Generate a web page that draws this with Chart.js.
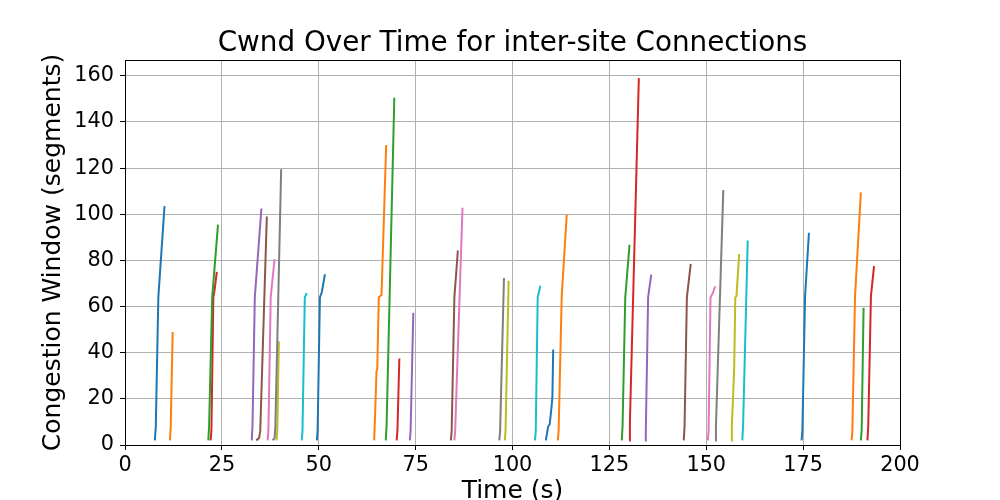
<!DOCTYPE html>
<html>
<head>
<meta charset="utf-8">
<script src="https://cdn.jsdelivr.net/npm/chart.js@4"></script>
<style>
html,body{margin:0;padding:0;background:#fff;}
#wrap{width:1000px;height:500px;}
</style>
</head>
<body>
<div id="wrap"><canvas id="c" width="1000" height="500"></canvas></div>
<script>
// ---- Data ----
const chartTitle = 'Cwnd Over Time for inter-site Connections';
const connectionNames = [];
for (let i = 1; i <= 34; i++) connectionNames.push('conn ' + i);

const connectionTimes = [
  [7.7, 7.95, 8.6, 10.2],
  [11.6, 11.8, 12.3],
  [21.5, 21.7, 22.5, 24.0],
  [22.1, 22.3, 22.8, 23.1, 23.7],
  [32.7, 32.9, 33.5, 35.2],
  [33.9, 34.6, 34.9, 36.6],
  [36.8, 37.0, 37.6, 38.6],
  [38.1, 38.6, 38.8, 40.3],
  [39.1, 39.3, 39.7],
  [45.6, 45.8, 46.4, 46.9],
  [49.5, 49.7, 50.3, 50.8, 51.6],
  [64.3, 64.6, 64.9, 65.1, 65.5, 66.2, 67.4],
  [67.3, 67.5, 69.5],
  [70.1, 70.3, 70.8],
  [73.5, 73.7, 74.4],
  [84.1, 84.3, 85.0, 85.9],
  [85.0, 85.2, 87.1],
  [96.6, 96.8, 97.8],
  [98.0, 98.2, 99.0],
  [105.8, 106.0, 106.5, 107.2],
  [108.6, 109.2, 109.6, 110.1, 110.3, 110.5],
  [111.7, 111.9, 112.7, 114.0],
  [128.2, 128.4, 129.1, 130.2],
  [130.1, 130.3, 132.6],
  [134.2, 134.4, 135.0, 135.8],
  [144.2, 144.4, 145.0, 146.0],
  [150.4, 150.6, 151.1, 151.7, 152.3],
  [152.3, 152.5, 154.4],
  [156.4, 156.6, 157.2, 157.5, 157.8, 158.5],
  [159.3, 159.5, 160.7],
  [174.6, 174.8, 175.5, 176.5],
  [187.5, 187.7, 188.4, 189.9],
  [189.9, 190.1, 190.6],
  [191.6, 191.8, 192.5, 193.3]
];

const connectionCwnd = [
  [2, 8, 64, 103.5],
  [2, 8, 49],
  [2, 8, 64, 95.5],
  [2, 6, 64, 67, 75],
  [2, 8, 64, 102.5],
  [2, 3, 6, 99],
  [2, 6, 64, 80.5],
  [2, 3, 8, 119.5],
  [2, 6, 45],
  [2, 6, 64, 65.8],
  [2, 6, 64, 66.3, 74],
  [2, 16, 32, 33, 64, 65, 130],
  [2, 8, 150.5],
  [2, 6, 37.5],
  [2, 6, 57.3],
  [2, 6, 64, 84.3],
  [2, 6, 102.8],
  [2, 6, 72.4],
  [2, 6, 71.2],
  [2, 6, 64, 69],
  [2, 8, 9, 17, 21, 41.4],
  [2, 6, 64.5, 99.8],
  [2, 8, 64, 86.8],
  [2, 10, 159],
  [2, 6, 64, 73.8],
  [2, 8, 64, 78.5],
  [2, 6, 64, 65.8, 68.8],
  [2, 8, 110.5],
  [2, 8, 32.4, 64, 64.5, 82.8],
  [2, 8, 88.6],
  [2, 6, 64.5, 92],
  [2, 6, 64.5, 109.5],
  [2, 6, 59.5],
  [2, 8, 64.5, 77.5]
];

const xTickValues = [0, 25, 50, 75, 100, 125, 150, 175, 200];
const yTickValues = [0, 20, 40, 60, 80, 100, 120, 140, 160];

const palette = ['#1f77b4', '#ff7f0e', '#2ca02c', '#d62728', '#9467bd',
                 '#8c564b', '#e377c2', '#7f7f7f', '#bcbd22', '#17becf'];

// ---- Build datasets ----
const datasets = connectionTimes.map((ts, i) => ({
  label: connectionNames[i],
  data: ts.map((t, j) => ({x: t, y: connectionCwnd[i][j]})),
  borderColor: palette[i % 10],
  backgroundColor: palette[i % 10],
  borderWidth: 2,
  pointRadius: 0,
  pointHoverRadius: 0,
  tension: 0,
  fill: false
}));

const FONT = "'DejaVu Sans', sans-serif";

const frame = {
  id: 'frame',
  afterDatasetsDraw(chart) {
    const {ctx, chartArea: a} = chart;
    ctx.save();
    ctx.strokeStyle = '#000';
    ctx.lineWidth = 1;
    ctx.strokeRect(Math.round(a.left) + 0.5, Math.round(a.top) + 0.5,
                   Math.round(a.right - a.left), Math.round(a.bottom - a.top));
    ctx.restore();
  },
  afterDraw(chart) {
    const {ctx, chartArea: a} = chart;
    ctx.save();
    ctx.fillStyle = '#000';
    ctx.font = '27.8px ' + FONT;
    ctx.textAlign = 'center';
    ctx.textBaseline = 'alphabetic';
    ctx.fillText(chartTitle, (a.left + a.right) / 2, 51);
    ctx.restore();
  }
};

new Chart(document.getElementById('c'), {
  type: 'line',
  data: { datasets },
  plugins: [frame],
  options: {
    responsive: false,
    animation: false,
    events: [],
    layout: { padding: { left: 0, right: 100, top: 60, bottom: 0 } },
    plugins: {
      legend: { display: false },
      tooltip: { enabled: false },
      title: { display: false }
    },
    scales: {
      x: {
        type: 'linear',
        min: 0,
        max: 200,
        afterFit(scale) { scale.height = 55; },
        afterBuildTicks(scale) { scale.ticks = xTickValues.map(v => ({value: v})); },
        border: { display: false },
        grid: { color: '#b0b0b0', lineWidth: 1, tickColor: '#000', tickLength: 5, drawTicks: true },
        ticks: { color: '#000', font: { family: FONT, size: 20.8 }, padding: 3, maxRotation: 0 },
        title: {
          display: true,
          text: 'Time (s)',
          color: '#000',
          font: { family: FONT, size: 25, lineHeight: 0.672 },
          padding: { top: 0, bottom: 0 }
        }
      },
      y: {
        type: 'linear',
        min: 0,
        max: 166.85,
        afterFit(scale) { scale.width = 125; },
        afterBuildTicks(scale) { scale.ticks = yTickValues.map(v => ({value: v})); },
        border: { display: false },
        grid: { color: '#b0b0b0', lineWidth: 1, tickColor: '#000', tickLength: 5, drawTicks: true },
        ticks: { color: '#000', font: { family: FONT, size: 20.8 }, padding: 6 },
        title: {
          display: true,
          text: 'Congestion Window (segments)',
          color: '#000',
          font: { family: FONT, size: 25, lineHeight: 1.2 },
          padding: { top: 38.5, bottom: 0 }
        }
      }
    }
  }
});
</script>
</body>
</html>
